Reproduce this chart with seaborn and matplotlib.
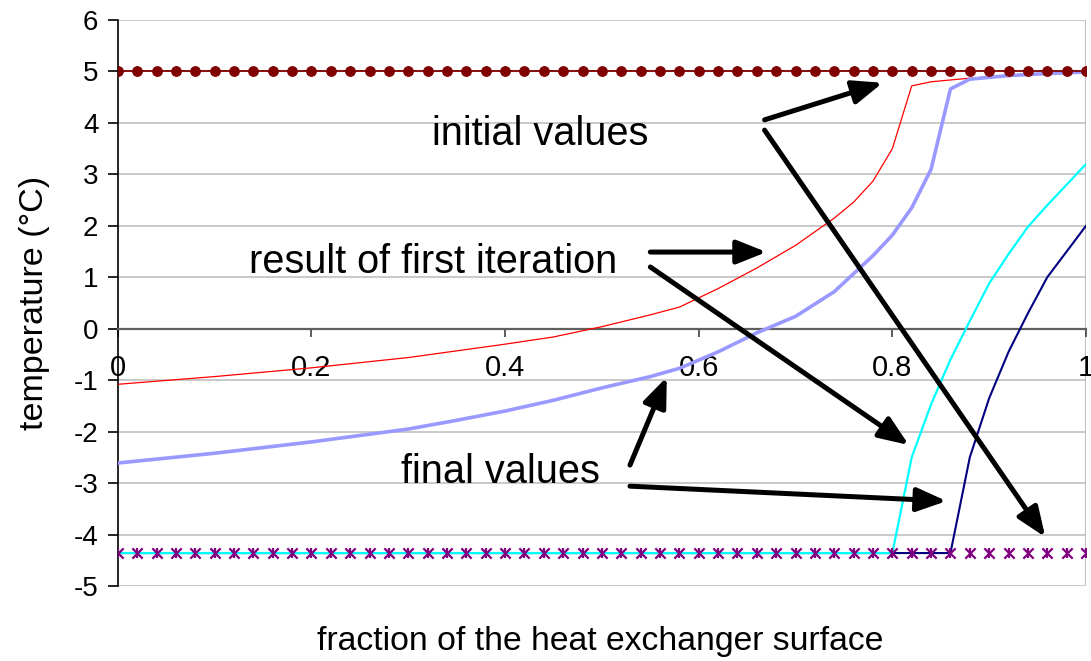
import numpy as np
import pandas as pd
import matplotlib
matplotlib.use("Agg")
import matplotlib.pyplot as plt
import seaborn as sns

# x nodes of the grid used for the initial / final marker series
x_nodes = np.linspace(0, 1, 51)
initial_top = [5.0] * 51
initial_bottom = [-4.36] * 51

# result of first iteration (red, thin)
red_x = [0, 0.1, 0.2, 0.3, 0.4, 0.45, 0.5, 0.55, 0.58, 0.62, 0.66, 0.7, 0.74, 0.76, 0.78, 0.8, 0.82, 0.84, 0.88, 0.92, 0.96, 1.0]
red_y = [-1.08, -0.93, -0.76, -0.56, -0.30, -0.16, 0.04, 0.27, 0.42, 0.78, 1.18, 1.62, 2.15, 2.46, 2.87, 3.5, 4.72, 4.80, 4.87, 4.92, 4.96, 5.0]

# result of first iteration (lavender, thick)
blue_x = [0, 0.1, 0.2, 0.3, 0.35, 0.4, 0.45, 0.5, 0.55, 0.58, 0.62, 0.66, 0.7, 0.74, 0.78, 0.8, 0.82, 0.84, 0.86, 0.88, 0.92, 0.96, 1.0]
blue_y = [-2.61, -2.42, -2.2, -1.95, -1.78, -1.6, -1.39, -1.15, -0.93, -0.77, -0.45, -0.08, 0.24, 0.72, 1.42, 1.82, 2.35, 3.1, 4.66, 4.85, 4.92, 4.96, 4.99]

# final values
cyan_x = [0, 0.8, 0.82, 0.84, 0.86, 0.88, 0.9, 0.92, 0.94, 0.96, 0.98, 1.0]
cyan_y = [-4.36, -4.36, -2.5, -1.47, -0.6, 0.15, 0.88, 1.45, 1.98, 2.4, 2.8, 3.2]
navy_x = [0, 0.86, 0.88, 0.9, 0.92, 0.94, 0.96, 0.98, 1.0]
navy_y = [-4.36, -4.36, -2.5, -1.35, -0.45, 0.3, 1.0, 1.5, 2.0]

x_ticks = [0, 0.2, 0.4, 0.6, 0.8, 1.0]
x_tick_labels = ["0", "0.2", "0.4", "0.6", "0.8", "1"]
y_ticks = list(range(-5, 7))

# labels: text, x, y (data coords)
labels = [
    ("initial values", 0.325, 3.57),
    ("result of first iteration", 0.136, 1.08),
    ("final values", 0.293, -3.0),
]
# arrows: (start x, start y, tip x, tip y)
arrows = [
    (0.668, 4.06, 0.790, 4.78),
    (0.668, 3.86, 0.958, -4.05),
    (0.550, 1.49, 0.670, 1.49),
    (0.550, 1.20, 0.817, -2.26),
    (0.529, -2.65, 0.567, -0.94),
    (0.529, -3.06, 0.856, -3.35),
]

sns.set_style("white")
plt.rcParams['font.family'] = ['Liberation Sans', 'DejaVu Sans']
plt.rcParams['axes.unicode_minus'] = False
plt.rcParams['text.color'] = 'black'
plt.rcParams['axes.labelcolor'] = 'black'
plt.rcParams['xtick.color'] = 'black'
plt.rcParams['ytick.color'] = 'black'

fig = plt.figure(figsize=(10.91, 6.61), dpi=100)
ax = fig.add_axes([0.108, 0.1135, 0.8874, 0.8562])

grey = '#C0C0C0'
for yy in y_ticks:
    ax.axhline(yy, color=grey, lw=1.2, zorder=0)
ax.axvline(1.0, color=grey, lw=1.5, zorder=0)

sns.lineplot(x=navy_x, y=navy_y, ax=ax, color='#000080', lw=1.5, sort=False, estimator=None, zorder=3)
sns.lineplot(x=cyan_x, y=cyan_y, ax=ax, color='#00FFFF', lw=1.6, sort=False, estimator=None, zorder=3)
sns.lineplot(x=red_x, y=red_y, ax=ax, color='#FF0000', lw=0.9, sort=False, estimator=None, zorder=3)
sns.lineplot(x=blue_x, y=blue_y, ax=ax, color='#9999FF', lw=2.6, sort=False, estimator=None, zorder=3)
sns.lineplot(x=x_nodes, y=initial_top, ax=ax, color='#800000', lw=1.3, marker='o', markersize=7,
             markeredgecolor='#800000', sort=False, estimator=None, zorder=4)
for m in ['x', '|']:
    sns.scatterplot(x=x_nodes, y=initial_bottom, ax=ax, color='#800080', marker=m, s=55,
                    linewidth=1.6, zorder=5)

for txt, tx, ty in labels:
    ax.text(tx, ty, txt, fontsize=28.6, va='baseline', ha='left', color='black', zorder=6)
for sx, sy, ex, ey in arrows:
    ax.annotate('', xy=(ex, ey), xytext=(sx, sy),
                arrowprops=dict(arrowstyle='-|>,head_length=0.5,head_width=0.2',
                                color='black', lw=3.6, mutation_scale=36,
                                shrinkA=0, shrinkB=0),
                zorder=7)

ax.set_xlim(0, 1.0)
ax.set_ylim(-5, 6)
ax.set_xticks(x_ticks)
ax.set_xticklabels(x_tick_labels)
ax.set_yticks(y_ticks)

ax.spines['left'].set_position(('data', 0))
ax.spines['bottom'].set_position(('data', 0))
ax.spines['left'].set_color('black')
ax.spines['bottom'].set_color('#606060')
ax.spines['left'].set_linewidth(1.2)
ax.spines['bottom'].set_linewidth(1.6)
ax.spines['top'].set_visible(False)
ax.spines['right'].set_visible(False)
ax.spines['left'].set_zorder(2)
ax.spines['bottom'].set_zorder(2)

ax.tick_params(axis='y', direction='out', length=7, width=1.2, color='black', pad=7,
               labelsize=20, left=True)
ax.tick_params(axis='x', direction='out', length=6, width=1.2, color='#404040', pad=12,
               labelsize=21, bottom=True)

ax.set_xlabel('fraction of the heat exchanger surface', fontsize=24.3)
ax.set_ylabel('temperature (°C)', fontsize=24.5)
ax.xaxis.set_label_coords(0.498, -0.07, transform=ax.transAxes)
ax.yaxis.set_label_coords(-0.07, 0.5, transform=ax.transAxes)

fig.savefig('out.png', dpi=100)
